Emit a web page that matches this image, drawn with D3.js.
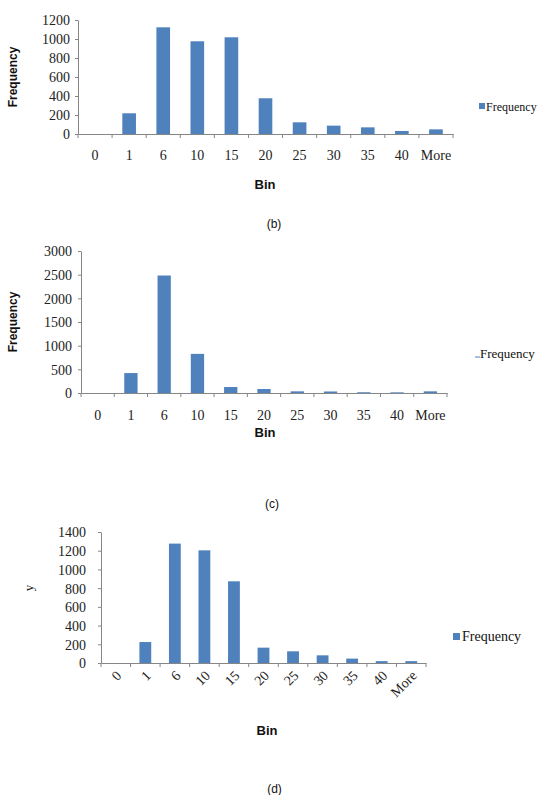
<!DOCTYPE html>
<html>
<head>
<meta charset="utf-8">
<script src="https://cdn.jsdelivr.net/npm/d3@7"></script>
<style>
  body { margin: 0; background: #fff; }
  svg { display: block; }
  .tick text { font-family: "Liberation Serif", "Times New Roman", serif; font-size: 14px; fill: #222; }
  .axis path, .axis line { stroke: #868686; }
  .axis-label { font-family: "Liberation Sans", Arial, sans-serif; font-weight: bold; font-size: 13px; fill: #111; }
  .caption { font-family: "Liberation Sans", Arial, sans-serif; font-size: 12px; fill: #111; }
  .legend { font-family: "Liberation Serif", "Times New Roman", serif; fill: #111; }
</style>
</head>
<body>
<svg id="chart" width="538" height="795"></svg>
<script>
// Data
const bins  = ["0", "1", "6", "10", "15", "20", "25", "30", "35", "40", "More"];
const freqB = [0, 218, 1123, 976, 1018, 376, 123, 88, 70, 32, 49];
const freqC = [0, 421, 2482, 827, 126, 84, 35, 32, 16, 14, 35];
const freqD = [0, 224, 1276, 1204, 873, 164, 125, 82, 47, 20, 20];

const ticksB = [0, 200, 400, 600, 800, 1000, 1200];
const ticksC = [0, 500, 1000, 1500, 2000, 2500, 3000];
const ticksD = [0, 200, 400, 600, 800, 1000, 1200, 1400];

const barColor = "#4F81BD";
const svg = d3.select("#chart");

// panel layout (pixel positions only)
const panels = [
    { values: freqB, ticks: ticksB, x0: 78, x1: 453, yBottom: 134, yTop: 20,
      yLabel: "Frequency", yLabelPos: [17, 77], yLabelSerif: false, yPad: 5,
      binY: 189, binX: 265, caption: "(b)", capX: 274, capY: 228,
      rotate: false, labelTop: 16,
      legend: { type: "square", x: 479, y: 103, size: 6, tx: 486, ty: 110.5, fs: 12 } },
    { values: freqC, ticks: ticksC, x0: 81, x1: 447, yBottom: 393, yTop: 251,
      yLabel: "Frequency", yLabelPos: [17, 322], yLabelSerif: false, yPad: 6,
      binY: 437, binX: 265, caption: "(c)", capX: 272, capY: 508,
      rotate: false, labelTop: 17,
      legend: { type: "dash", x: 475, y: 357, size: 5, tx: 480, ty: 358, fs: 13 } },
    { values: freqD, ticks: ticksD, x0: 101, x1: 426, yBottom: 663, yTop: 532,
      yLabel: "y", yLabelPos: [33, 588], yLabelSerif: true, yPad: 12,
      binY: 735, binX: 267, caption: "(d)", capX: 274.5, capY: 793,
      rotate: true, labelTop: 14,
      legend: { type: "square", x: 453, y: 633, size: 7, tx: 462, ty: 641, fs: 14 } }
];

panels.forEach(p => {
    const g = svg.append("g");
    const data = bins.map((b, i) => ({ bin: b, value: p.values[i] }));

    // ---- Scales
    const mapX = d3.scaleBand()
        .domain(bins)
        .range([p.x0, p.x1])
        .paddingInner(0.6)
        .paddingOuter(0.3);

    const mapY = d3.scaleLinear()
        .domain([0, d3.max(p.ticks)])
        .range([p.yBottom, p.yTop]);

    // ---- Bars
    g.append("g")
        .selectAll("rect")
        .data(data)
        .enter()
        .append("rect")
        .attr("x", d => mapX(d.bin))
        .attr("y", d => mapY(d.value))
        .attr("width", mapX.bandwidth())
        .attr("height", d => p.yBottom - mapY(d.value))
        .attr("fill", barColor);

    // ---- Y axis
    g.append("g")
        .attr("class", "y axis")
        .attr("transform", `translate(${p.x0},0)`)
        .call(d3.axisLeft(mapY).tickValues(p.ticks).tickFormat(d3.format("d"))
            .tickSize(3).tickSizeOuter(0).tickPadding(p.yPad))
        .call(a => a.selectAll(".tick text").attr("dy", "0.35em"));

    // ---- X axis (labels centred on bars, tick marks between bins)
    const xAxis = g.append("g")
        .attr("class", "x axis")
        .attr("transform", `translate(0,${p.yBottom})`)
        .call(d3.axisBottom(mapX).tickSize(0).tickSizeOuter(0).tickPadding(p.labelTop));

    if (p.rotate) {
        xAxis.selectAll(".tick text")
            .attr("text-anchor", "end")
            .attr("dy", "0.35em")
            .attr("transform", `translate(3,${p.labelTop - 4}) rotate(-45)`)
            .attr("y", 0);
    }

    const step = mapX.step();
    const edges = bins.map(b => mapX(b) - (step - mapX.bandwidth()) / 2).concat([p.x1]);
    xAxis.selectAll("line.edge")
        .data(edges)
        .enter()
        .append("line")
        .attr("class", "edge")
        .attr("x1", d => d).attr("x2", d => d)
        .attr("y1", 0).attr("y2", 4);

    // ---- Axis titles
    g.append("text")
        .attr("class", "axis-label")
        .attr("x", p.binX)
        .attr("y", p.binY)
        .style("text-anchor", "middle")
        .text("Bin");

    const yl = g.append("text")
        .attr("transform", `translate(${p.yLabelPos[0]},${p.yLabelPos[1]}) rotate(-90)`)
        .style("text-anchor", "middle")
        .text(p.yLabel);
    if (p.yLabelSerif) {
        yl.attr("class", "legend").style("font-size", "13px");
    } else {
        yl.attr("class", "axis-label").style("font-size", "12px");
    }

    // ---- Caption
    g.append("text")
        .attr("class", "caption")
        .attr("x", p.capX)
        .attr("y", p.capY)
        .style("text-anchor", "middle")
        .text(p.caption);

    // ---- Legend
    const L = p.legend;
    if (L.type === "square") {
        g.append("rect")
            .attr("x", L.x).attr("y", L.y)
            .attr("width", L.size).attr("height", L.size)
            .attr("fill", barColor);
    } else {
        g.append("line")
            .attr("x1", L.x).attr("x2", L.x + L.size)
            .attr("y1", L.y).attr("y2", L.y)
            .attr("stroke", barColor).attr("stroke-width", 1);
    }
    g.append("text")
        .attr("class", "legend")
        .attr("x", L.tx)
        .attr("y", L.ty)
        .style("font-size", L.fs + "px")
        .text("Frequency");
});
</script>
</body>
</html>
